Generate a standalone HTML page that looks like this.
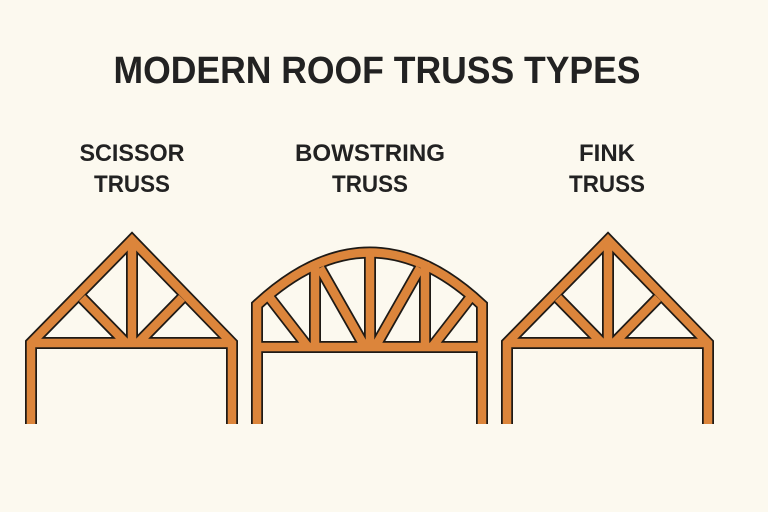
<!DOCTYPE html>
<html><head><meta charset="utf-8"><style>
html,body{margin:0;padding:0;background:#fcf9ef;}
svg{display:block}
text{font-family:"Liberation Sans",sans-serif;font-weight:bold;fill:#222;text-anchor:middle}
</style></head><body>
<svg width="768" height="512" viewBox="0 0 768 512">
<rect width="768" height="512" fill="#fcf9ef"/>
<text x="377" y="83" font-size="38" textLength="527" lengthAdjust="spacingAndGlyphs">MODERN ROOF TRUSS TYPES</text>
<text x="132" y="161" font-size="24" textLength="105" lengthAdjust="spacingAndGlyphs">SCISSOR</text>
<text x="132" y="192" font-size="24" textLength="76" lengthAdjust="spacingAndGlyphs">TRUSS</text>
<text x="370" y="161" font-size="24" textLength="150" lengthAdjust="spacingAndGlyphs">BOWSTRING</text>
<text x="370" y="192" font-size="24" textLength="76" lengthAdjust="spacingAndGlyphs">TRUSS</text>
<text x="607" y="161" font-size="24" textLength="56" lengthAdjust="spacingAndGlyphs">FINK</text>
<text x="607" y="192" font-size="24" textLength="76" lengthAdjust="spacingAndGlyphs">TRUSS</text>
<defs>
<g id="sc">
<path d="M31,424 L31,343 L132,240 L232,343 L232,424" fill="none"/>
<path d="M31,343 L232,343 M132,240 L132,343 M82,298 L126,343 M182,298 L138,343" fill="none"/>
</g>
<g id="bw">
<path d="M257,424 L257,305 Q370,200 482,305 L482,424" fill="none"/>
<path d="M257,347 L482,347 M315,262 L315,347 M370,250 L370,347 M425,262 L425,347 M270,298 L308,347 M320,268 L365,347 M420,268 L375,347 M470,298 L432,347" fill="none"/>
</g>
</defs>
<g stroke="#1e1a16" stroke-width="12" stroke-linejoin="miter" stroke-linecap="butt">
<use href="#sc"/><use href="#sc" transform="translate(476,0)"/><use href="#bw"/>
</g>
<g stroke="#dc853b" stroke-width="8.5" stroke-linejoin="miter" stroke-linecap="butt">
<use href="#sc"/><use href="#sc" transform="translate(476,0)"/><use href="#bw"/>
</g>
</svg>
</body></html>
